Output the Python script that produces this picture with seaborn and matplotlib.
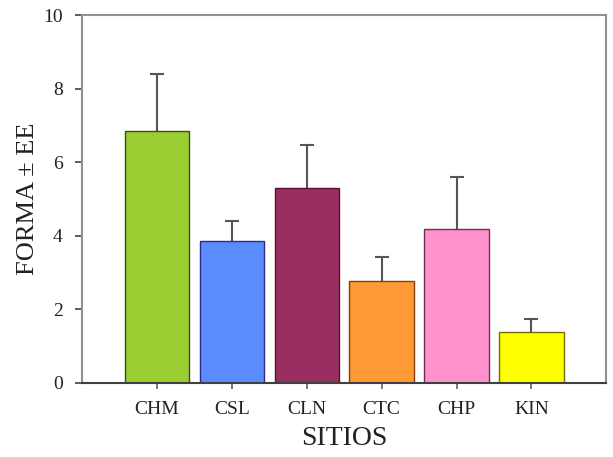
import matplotlib
matplotlib.use("Agg")
import matplotlib.pyplot as plt
import seaborn as sns
import pandas as pd

sitios = ["CHM", "CSL", "CLN", "CTC", "CHP", "KIN"]
forma = [6.85, 3.87, 5.29, 2.78, 4.19, 1.38]
ee = [1.54, 0.54, 1.18, 0.65, 1.40, 0.37]
colores = ["#9ACD32", "#5B8CFF", "#992E61", "#FF9933", "#FF91CC", "#FFFF00"]
bordes = ["#3A5010", "#2A2A8A", "#5A1035", "#804010", "#6A3050", "#707000"]
yticks = [0, 2, 4, 6, 8, 10]

sns.set_style("white")
plt.rcParams['font.family'] = ['Liberation Serif', 'DejaVu Serif']

df = pd.DataFrame({"SITIOS": sitios, "FORMA": forma})

fig = plt.figure(figsize=(6.13, 4.57), dpi=100)
ax = fig.add_axes([0.134, 0.162, 0.855, 0.805])

sns.barplot(data=df, x="SITIOS", y="FORMA", hue="SITIOS", palette=colores,
            legend=False, width=0.86, ax=ax, saturation=1)
for patch, ec in zip(ax.patches, bordes):
    patch.set_edgecolor(ec)
    patch.set_linewidth(1.0)
    patch.set_zorder(3)

ax.errorbar(range(len(sitios)), forma, yerr=ee, fmt="none",
            ecolor="#555555", elinewidth=1.5, capsize=5, capthick=1.5, zorder=1)

ax.set_xlim(-1.0, 6.0)
ax.set_ylim(0, 10)
ax.set_yticks(yticks)
ax.set_yticklabels([str(t) for t in yticks])

for sp in ax.spines.values():
    sp.set_visible(True)
    sp.set_color("#909090")
    sp.set_linewidth(1.5)
    sp.set_zorder(4)
ax.spines["bottom"].set_color("#404040")

ax.tick_params(axis="y", direction="out", length=5, width=1.2, color="#404040",
               labelsize=14, labelcolor="#222222", pad=9, left=True)
ax.tick_params(axis="x", direction="out", length=4, width=1.2, color="#606060",
               labelsize=14, labelcolor="#222222", pad=9, bottom=True)

ax.set_xlabel("SITIOS", fontsize=20, color="#222222", labelpad=6)
ax.set_ylabel("FORMA ± EE", fontsize=19, color="#222222")
ax.yaxis.set_label_coords(-0.083, 0.5)

fig.savefig("out.png", dpi=100)
